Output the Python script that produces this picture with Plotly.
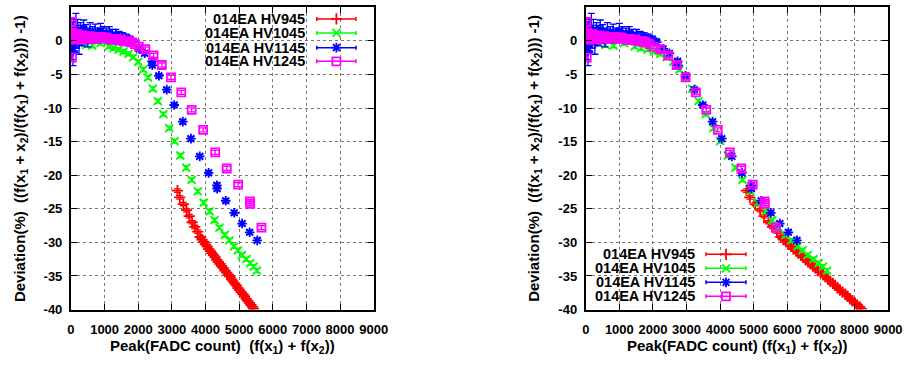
import plotly.graph_objects as go

W, H = 924, 365

# ---- measured saturation deviation vs. summed peak, PMT 014EA ----
series_names = ["014EA HV945", "014EA HV1045", "014EA HV1145", "014EA HV1245"]
series_colors = ["#ff0000", "#00ff00", "#0000ff", "#ff00ff"]
series_symbols = ["cross-thin", "x-thin", "asterisk", "square-open"]

hv945_peak = [3166, 3233, 3340, 3437, 3515, 3602, 3680, 3768, 3845, 3895, 3945, 3995,
              4047, 4095, 4145, 4190, 4240, 4285, 4335, 4380, 4430, 4475, 4525, 4575,
              4632, 4680, 4725, 4775, 4820, 4870, 4915, 4965, 5010, 5060, 5117, 5160,
              5210, 5255, 5305, 5350, 5400, 5430]
hv945_dev = [-22.3, -23.3, -24.3, -25.2, -26.1, -27.0, -27.7, -28.4, -29.2, -29.6, -29.9, -30.3,
             -30.6, -31.0, -31.3, -31.6, -31.9, -32.2, -32.6, -32.9, -33.2, -33.5, -33.8, -34.2,
             -34.5, -34.8, -35.1, -35.5, -35.8, -36.1, -36.4, -36.8, -37.1, -37.4, -37.7, -38.0,
             -38.4, -38.7, -39.0, -39.3, -39.6, -39.9]
hv945_err = [0.25] * len(hv945_peak)

hv1045_peak = [150, 300, 450, 635, 877, 977, 1123, 1269, 1415, 1561,
               1708, 1854, 2000, 2146, 2292, 2437, 2583, 2747, 2922, 3078,
               3253, 3427, 3588, 3772, 3947, 4123, 4269, 4415, 4573, 4708,
               4845, 4962, 5079, 5216, 5333, 5430, 5526]
hv1045_dev = [-0.2, -0.4, -0.6, -0.73, -0.33, -0.09, -0.82, -1.1, -1.31, -1.6,
              -1.94, -2.42, -3.14, -4.27, -5.47, -7.13, -8.97, -10.9, -13.0, -14.94,
              -17.07, -18.87, -20.7, -22.4, -24.1, -25.4, -26.7, -27.8, -28.9, -29.7,
              -30.6, -31.2, -31.9, -32.5, -33.1, -33.6, -34.2]
hv1045_err = [0.3] * len(hv1045_peak)

hv1145_peak = [20, 45, 60, 85, 110, 146, 170, 200, 240, 280,
               330, 380, 440, 500, 570, 640, 720, 800, 880, 960,
               1050, 1140, 1230, 1330, 1430, 1530, 1640, 1750, 1860, 2029,
               2193, 2409, 2418, 2614, 2848, 3070, 3325, 3567, 3830, 4094,
               4339, 4345, 4602, 4854, 5088, 5313, 5538]
hv1145_dev = [-0.8, 0.9, -1.5, 1.4, 0.2, 1.5, 0.6, 1.6, -0.3, 1.2,
              0.8, 1.7, 1.0, 0.5, 1.4, 0.9, 1.3, 0.8, 1.5, 1.1,
              0.9, 1.2, 0.8, 0.9, 0.6, 0.5, 0.4, 0.2, -0.2, -1.21,
              -1.84, -3.05, -3.64, -5.2, -7.27, -9.55, -12.03, -14.56, -17.2, -19.65,
              -21.5, -22.0, -23.8, -25.6, -27.2, -28.5, -29.7]
hv1145_err = [2.0, 1.9, 2.2, 1.8, 1.9, 2.6, 1.7, 1.6, 1.7, 1.5,
              1.5, 1.4, 1.4, 1.4, 1.3, 1.2, 1.2, 1.1, 1.1, 1.0,
              1.0, 0.9, 0.9, 0.8, 0.8, 0.7, 0.6, 0.5, 0.5, 0.35,
              0.35, 0.3, 0.3, 0.3, 0.3, 0.3, 0.3, 0.3, 0.3, 0.3,
              0.3, 0.3, 0.3, 0.3, 0.3, 0.3, 0.3]

hv1245_peak = [25, 30, 35, 50, 70, 90, 110, 135, 160, 190,
               220, 260, 300, 340, 390, 440, 500, 560, 620, 690,
               760, 830, 900, 980, 1060, 1140, 1219, 1300, 1390, 1480,
               1561, 1650, 1730, 1804, 1900, 2018, 2213, 2456, 2702, 2974,
               3280, 3588, 3930, 4289, 4632, 4971, 5322, 5330, 5664]
hv1245_dev = [2.8, -2.5, 0.5, 1.2, 0.3, 0.9, 0.2, 0.7, 0.4, 1.0,
              0.3, 0.6, 0.2, 0.8, 0.4, 0.5, 0.3, 0.7, 0.4, 0.6,
              0.3, 0.5, 0.6, 0.4, 0.5, 0.3, 0.15, 0.3, 0.1, 0.2,
              -0.09, 0.0, -0.1, -0.24, -0.5, -0.87, -1.25, -2.18, -3.6, -5.43,
              -7.66, -10.28, -13.25, -16.6, -19.0, -21.4, -23.9, -24.25, -27.8]
hv1245_err = [0.6, 0.6, 0.6, 0.6, 0.5, 0.5, 0.5, 0.5, 0.5, 0.5,
              0.4, 0.4, 0.4, 0.4, 0.4, 0.4, 0.3, 0.3, 0.3, 0.3,
              0.3, 0.3, 0.3, 0.3, 0.3, 0.3, 0.3, 0.3, 0.3, 0.3,
              0.3, 0.3, 0.3, 0.3, 0.3, 0.3, 0.3, 0.3, 0.3, 0.3,
              0.3, 0.3, 0.3, 0.3, 0.3, 0.3, 0.3, 0.3, 0.3]

# peak scale that brings each HV setting onto the HV1245 gain (right panel)
gain_norm = [1.51, 1.30, 1.135, 1.0]

peaks = [hv945_peak, hv1045_peak, hv1145_peak, hv1245_peak]
devs = [hv945_dev, hv1045_dev, hv1145_dev, hv1245_dev]
errs = [hv945_err, hv1045_err, hv1145_err, hv1245_err]

x_ticks = [0, 1000, 2000, 3000, 4000, 5000, 6000, 7000, 8000, 9000]
x_ticktext = ["0", "1000", "2000", "3000", "4000", "5000", "6000", "7000", "8000", "9000"]
y_ticks = [5, 0, -5, -10, -15, -20, -25, -30, -35, -40]
y_ticktext = ["5", "0", "-5", "-10", "-15", "-20", "-25", "-30", "-35", "-40"]

FONT = "Liberation Sans"

# panel geometry in page pixels
PX = [(68.3, 377.0), (593.3, 901.7)]
PY = (7.4, 316.5)

fig = go.Figure()

MSIZE = 8
MLINE = 1.8

for panel in range(2):
    xa = "x" if panel == 0 else "x2"
    ya = "y" if panel == 0 else "y2"
    for i in range(4):
        c = series_colors[i]
        scale = 1.0 if panel == 0 else gain_norm[i]
        fig.add_trace(go.Scatter(
            x=[p * scale for p in peaks[i]], y=devs[i],
            mode="markers",
            marker=dict(symbol=series_symbols[i], size=MSIZE, color=c,
                        line=dict(color=c, width=MLINE)),
            error_y=dict(type="data", array=errs[i], color=c, thickness=1.3, width=3.5),
            xaxis=xa, yaxis=ya, showlegend=False, hoverinfo="skip"))

# key samples drawn on a page-pixel overlay axis
key_layouts = [
    dict(rows=[19.3, 33.7, 48.7, 62.7], x0=319.0, x1=359.0, text_right=309.5),
    dict(rows=[260.0, 274.3, 288.7, 303.0], x0=716.0, x1=756.7, text_right=706.7),
]
annotations = []
for kl in key_layouts:
    cx = (kl["x0"] + kl["x1"]) / 2
    half = (kl["x1"] - kl["x0"]) / 2
    for i in range(4):
        c = series_colors[i]
        fig.add_trace(go.Scatter(
            x=[cx], y=[kl["rows"][i]], mode="markers",
            marker=dict(symbol=series_symbols[i], size=MSIZE, color=c,
                        line=dict(color=c, width=MLINE)),
            error_x=dict(type="constant", value=half, color=c, thickness=1.5, width=2),
            xaxis="x3", yaxis="y3", showlegend=False, hoverinfo="skip"))
        annotations.append(dict(
            x=kl["text_right"] / W, y=1 - kl["rows"][i] / H, xref="paper", yref="paper",
            xanchor="right", yanchor="middle", showarrow=False, text=series_names[i],
            font=dict(family=FONT, size=14.5, color="black", weight="bold")))

ytitle = ("Deviation(%)\u00a0 ((f(x<sub>1</sub> + x<sub>2</sub>)/(f(x<sub>1</sub>) + "
          "f(x<sub>2</sub>))) -1)")
xtitles = ["Peak(FADC count)\u00a0 (f(x<sub>1</sub>) + f(x<sub>2</sub>))",
           "Peak(FADC count) (f(x<sub>1</sub>) + f(x<sub>2</sub>))"]
ycx = [17.0, 541.0]
for panel in range(2):
    annotations.append(dict(
        x=ycx[panel] / W, y=1 - (PY[0] + PY[1]) / 2 / H, xref="paper", yref="paper",
        xanchor="center", yanchor="middle", textangle=-90, showarrow=False, text=ytitle,
        font=dict(family=FONT, size=15, color="black", weight="bold")))
    annotations.append(dict(
        x=(PX[panel][0] + PX[panel][1]) / 2 / W, y=1 - 354.0 / H, xref="paper", yref="paper",
        xanchor="center", yanchor="middle", showarrow=False, text=xtitles[panel],
        font=dict(family=FONT, size=15, color="black", weight="bold")))

tickfont = dict(family=FONT, size=13, color="black", weight="bold")
axis_common = dict(
    ticks="inside", ticklen=6, tickwidth=1, tickcolor="black",
    showline=True, linecolor="black", linewidth=2, mirror="ticks",
    showgrid=True, gridcolor="#777777", griddash="dot", gridwidth=1,
    zeroline=False, tickfont=tickfont, fixedrange=True,
)
ydom = [1 - PY[1] / H, 1 - PY[0] / H]

layout = dict(
    width=W, height=H, margin=dict(l=0, r=0, t=0, b=0),
    paper_bgcolor="white", plot_bgcolor="rgba(0,0,0,0)", showlegend=False,
    annotations=annotations,
    xaxis3=dict(domain=[0, 1], range=[0, W], visible=False, anchor="y3", fixedrange=True),
    yaxis3=dict(domain=[0, 1], range=[H, 0], visible=False, anchor="x3", fixedrange=True),
)
for panel in range(2):
    sx = "" if panel == 0 else "2"
    layout["xaxis" + sx] = dict(
        axis_common, domain=[PX[panel][0] / W, PX[panel][1] / W], range=[0, 9000],
        tickvals=x_ticks, ticktext=x_ticktext, anchor="y" + sx, ticklabelstandoff=7)
    layout["yaxis" + sx] = dict(
        axis_common, domain=ydom, range=[-40, 5],
        tickvals=y_ticks, ticktext=y_ticktext, anchor="x" + sx, ticklabelstandoff=4)

fig.update_layout(**layout)
fig.write_html("out.html")
